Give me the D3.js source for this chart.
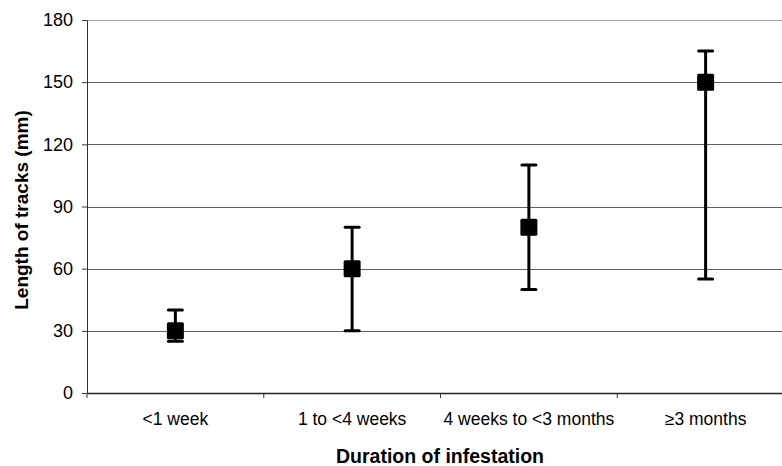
<!DOCTYPE html>
<html>
<head>
<meta charset="utf-8">
<script src="https://cdn.jsdelivr.net/npm/d3@7"></script>
<style>
  body { margin: 0; background: #fff; }
  text { font-family: "Liberation Sans", Arial, sans-serif; }
</style>
</head>
<body>
<div id="chart"></div>
<script>
var categories = ['<1 week', '1 to <4 weeks', '4 weeks to <3 months', '\u22653 months'];
var means = [30, 60, 80, 150];
var upper = [40, 80, 110, 165];
var lower = [25, 30, 50, 55];
var yTicks = [0, 30, 60, 90, 120, 150, 180];

const margin = { left: 87, right: -12, top: 20, bottom: 73 };
const width = 782, height = 466;
const chartWidth = width - margin.left - margin.right;
const chartHeight = height - margin.top - margin.bottom;

var svg = d3.select('#chart')
  .append('svg')
  .attr('width', width)
  .attr('height', height);

var scaleX = d3.scaleBand()
  .domain(categories)
  .range([0, chartWidth]);

var scaleY = d3.scaleLinear()
  .domain([0, 180])
  .range([chartHeight, 0]);

var group = svg.append('g')
  .attr('transform', 'translate(' + margin.left + ',' + margin.top + ')');

// gridlines
group.selectAll('.grid')
  .data(yTicks.filter(function (d) { return d > 0; }))
  .enter()
  .append('line')
  .attr('x1', 0)
  .attr('x2', chartWidth)
  .attr('y1', function (d) { return Math.round(scaleY(d)) + 0.5; })
  .attr('y2', function (d) { return Math.round(scaleY(d)) + 0.5; })
  .attr('stroke', function (d) { return d === 180 ? '#a8a8a8' : '#606060'; })
  .attr('stroke-width', 1);

// axes
var axisY = d3.axisLeft(scaleY).tickValues(yTicks).tickSize(5).tickPadding(9);
var gy = group.append('g').call(axisY);
gy.select('.domain').attr('stroke', '#333');
gy.selectAll('.tick line').attr('stroke', '#333');
gy.selectAll('text').attr('font-size', '18px').attr('fill', '#000');

var axisX = d3.axisBottom(scaleX).tickSize(0).tickPadding(20);
var gx = group.append('g')
  .attr('transform', 'translate(0,' + chartHeight + ')')
  .call(axisX);
gx.select('.domain').attr('stroke', '#222').attr('stroke-width', 1.5);
gx.selectAll('text').attr('font-size', '17.5px').attr('fill', '#000');

// tick marks between categories
gx.selectAll('.sep')
  .data(categories)
  .enter()
  .append('line')
  .attr('x1', function (d) { return scaleX(d); })
  .attr('x2', function (d) { return scaleX(d); })
  .attr('y1', 0)
  .attr('y2', 5)
  .attr('stroke', '#333');

// error bars
var cx = function (i) { return scaleX(categories[i]) + scaleX.bandwidth() / 2; };

group.selectAll('.err')
  .data(means)
  .enter()
  .append('line')
  .attr('x1', function (d, i) { return cx(i); })
  .attr('x2', function (d, i) { return cx(i); })
  .attr('y1', function (d, i) { return scaleY(upper[i]); })
  .attr('y2', function (d, i) { return scaleY(lower[i]); })
  .attr('stroke', '#000')
  .attr('stroke-width', 3);

[upper, lower].forEach(function (arr) {
  group.selectAll(null)
    .data(arr)
    .enter()
    .append('line')
    .attr('x1', function (d, i) { return cx(i) - 7; })
    .attr('x2', function (d, i) { return cx(i) + 7; })
    .attr('y1', function (d) { return scaleY(d); })
    .attr('y2', function (d) { return scaleY(d); })
    .attr('stroke', '#000')
    .attr('stroke-width', 3)
    .attr('stroke-linecap', 'round');
});

// markers
group.selectAll('.marker')
  .data(means)
  .enter()
  .append('rect')
  .attr('x', function (d, i) { return cx(i) - 8.5; })
  .attr('y', function (d) { return scaleY(d) - 8.5; })
  .attr('width', 17)
  .attr('height', 17)
  .attr('rx', 1.5)
  .attr('fill', '#000');

// axis titles
svg.append('text')
  .attr('x', 440)
  .attr('y', 463)
  .attr('text-anchor', 'middle')
  .attr('font-size', '19.5px')
  .attr('font-weight', 'bold')
  .text('Duration of infestation');

svg.append('text')
  .attr('transform', 'translate(28,' + 210 + ') rotate(-90)')
  .attr('text-anchor', 'middle')
  .attr('font-size', '19px')
  .attr('font-weight', 'bold')
  .text('Length of tracks (mm)');
</script>
</body>
</html>
